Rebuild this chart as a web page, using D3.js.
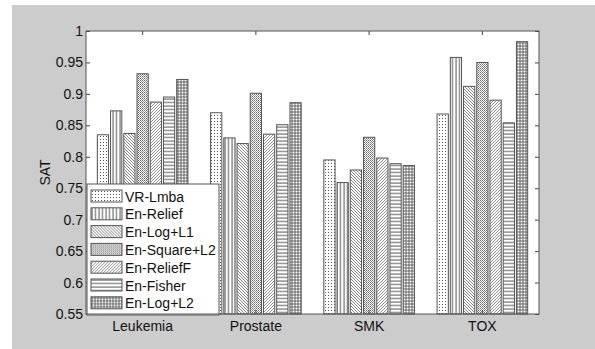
<!DOCTYPE html>
<html>
<head>
<meta charset="utf-8">
<script src="https://cdn.jsdelivr.net/npm/d3@7"></script>
<style>
  body { margin: 0; background: #fff; }
  svg text { font-family: "Liberation Sans", Arial, sans-serif; }
</style>
</head>
<body>
<div id="chart"></div>
<script>
const datasets = ['Leukemia', 'Prostate', 'SMK', 'TOX'];
const methods = ['VR-Lmba', 'En-Relief', 'En-Log+L1', 'En-Square+L2', 'En-ReliefF', 'En-Fisher', 'En-Log+L2'];
const vrLmba     = [0.835, 0.870, 0.795, 0.868];
const enRelief   = [0.873, 0.830, 0.759, 0.958];
const enLogL1    = [0.837, 0.821, 0.779, 0.912];
const enSquareL2 = [0.932, 0.901, 0.831, 0.950];
const enReliefF  = [0.887, 0.836, 0.798, 0.890];
const enFisher   = [0.895, 0.851, 0.789, 0.854];
const enLogL2    = [0.923, 0.886, 0.786, 0.983];
const yTicks = [0.55, 0.6, 0.65, 0.7, 0.75, 0.8, 0.85, 0.9, 0.95, 1];

const series = [vrLmba, enRelief, enLogL1, enSquareL2, enReliefF, enFisher, enLogL2];

const W = 595, H = 349;
const plot = { left: 86, right: 539, top: 31, bottom: 314 };
const fontSize = 14;
const textColor = '#111';

const svg = d3.select('#chart').append('svg')
  .attr('width', W)
  .attr('height', H);

// figure background
svg.append('rect')
  .attr('x', 12).attr('y', 5)
  .attr('width', W - 12).attr('height', H - 5)
  .attr('fill', '#cccccc');

// hatch patterns
const defs = svg.append('defs');
const ink = '#444';

function pat(id, size, draw) {
  const p = defs.append('pattern')
    .attr('id', id)
    .attr('patternUnits', 'userSpaceOnUse')
    .attr('width', size).attr('height', size);
  p.append('rect').attr('width', size).attr('height', size).attr('fill', '#fff');
  draw(p);
}

pat('p0', 3, p => {
  p.append('rect').attr('x', 1).attr('y', 1).attr('width', 1).attr('height', 1).attr('fill', '#555');
});
pat('p1', 3.5, p => {
  p.append('line').attr('x1', 1).attr('x2', 1).attr('y1', 0).attr('y2', 3.5)
    .attr('stroke', ink).attr('stroke-width', 0.9);
});
pat('p2', 3, p => {
  p.append('path').attr('d', 'M0,0L3,3M-1,2L1,4M2,-1L4,1')
    .attr('stroke', '#666').attr('stroke-width', 0.8);
});
pat('p3', 2, p => {
  p.append('rect').attr('width', 1).attr('height', 1).attr('fill', '#666');
  p.append('rect').attr('x', 1).attr('y', 1).attr('width', 1).attr('height', 1).attr('fill', '#999');
});
pat('p4', 3, p => {
  p.append('path').attr('d', 'M0,3L3,0M-1,1L1,-1M2,4L4,2')
    .attr('stroke', '#777').attr('stroke-width', 0.8);
});
pat('p5', 3.5, p => {
  p.append('line').attr('y1', 1).attr('y2', 1).attr('x1', 0).attr('x2', 3.5)
    .attr('stroke', ink).attr('stroke-width', 0.9);
});
pat('p6', 3, p => {
  p.append('path').attr('d', 'M0,1L3,1M1,0L1,3')
    .attr('stroke', ink).attr('stroke-width', 0.8);
});

// scales
const x = d3.scaleBand()
  .domain(datasets)
  .range([plot.left, plot.right]);

const xs = d3.scaleBand()
  .domain(d3.range(methods.length))
  .range([0, x.bandwidth() * 0.8])
  .paddingInner(0.15);

const y = d3.scaleLinear()
  .domain([0.55, 1])
  .range([plot.bottom, plot.top]);

// axes area
svg.append('rect')
  .attr('x', plot.left).attr('y', plot.top)
  .attr('width', plot.right - plot.left)
  .attr('height', plot.bottom - plot.top)
  .attr('fill', '#fff');

// bars
const groupOffset = x.bandwidth() * 0.1;
series.forEach((vals, si) => {
  svg.append('g')
    .selectAll('rect')
    .data(vals)
    .enter()
    .append('rect')
    .attr('x', (d, i) => x(datasets[i]) + groupOffset + xs(si))
    .attr('y', d => y(d))
    .attr('width', xs.bandwidth())
    .attr('height', d => y(0.55) - y(d))
    .attr('fill', `url(#p${si})`)
    .attr('stroke', '#555')
    .attr('stroke-width', 1);
});

// axes with inward ticks
const tickLen = 4;
svg.append('g')
  .attr('transform', `translate(${plot.left},0)`)
  .call(d3.axisLeft(y).tickValues(yTicks).tickSize(-tickLen).tickPadding(3)
    .tickFormat(d => d3.format('')(+d.toFixed(2))))
  .call(g => g.select('.domain').remove())
  .call(g => g.selectAll('line').attr('stroke', '#444'))
  .call(g => g.selectAll('text').attr('font-size', fontSize).attr('fill', textColor)
    .attr('font-family', '"Liberation Sans", Arial, sans-serif'));

svg.append('g')
  .attr('transform', `translate(${plot.right},0)`)
  .call(d3.axisRight(y).tickValues(yTicks).tickSize(-tickLen).tickFormat(''))
  .call(g => g.select('.domain').remove())
  .call(g => g.selectAll('line').attr('stroke', '#444'));

svg.append('g')
  .attr('transform', `translate(0,${plot.bottom})`)
  .call(d3.axisBottom(x).tickSize(-tickLen).tickPadding(7))
  .call(g => g.select('.domain').remove())
  .call(g => g.selectAll('line').attr('stroke', '#444'))
  .call(g => g.selectAll('text').attr('font-size', fontSize).attr('fill', textColor)
    .attr('font-family', '"Liberation Sans", Arial, sans-serif'));

svg.append('g')
  .attr('transform', `translate(0,${plot.top})`)
  .call(d3.axisTop(x).tickSize(-tickLen).tickFormat(''))
  .call(g => g.select('.domain').remove())
  .call(g => g.selectAll('line').attr('stroke', '#444'));

// legend
const legend = svg.append('g').attr('transform', 'translate(87,184)');
legend.append('rect')
  .attr('width', 132).attr('height', 131)
  .attr('fill', '#fff')
  .attr('stroke', '#555');

methods.forEach((m, i) => {
  const row = legend.append('g').attr('transform', `translate(4,${6 + i * 17.8})`);
  row.append('rect')
    .attr('width', 31).attr('height', 12)
    .attr('fill', `url(#p${i})`)
    .attr('stroke', '#555');
  row.append('text')
    .attr('x', 34).attr('y', 11.5)
    .attr('font-size', fontSize)
    .attr('fill', textColor)
    .text(m);
});

// box
svg.append('rect')
  .attr('x', plot.left).attr('y', plot.top)
  .attr('width', plot.right - plot.left)
  .attr('height', plot.bottom - plot.top)
  .attr('fill', 'none')
  .attr('stroke', '#555');

svg.append('text')
  .attr('transform', `translate(50,${(plot.top + plot.bottom) / 2}) rotate(-90)`)
  .attr('text-anchor', 'middle')
  .attr('font-size', fontSize)
  .attr('fill', textColor)
  .text('SAT');
</script>
</body>
</html>
